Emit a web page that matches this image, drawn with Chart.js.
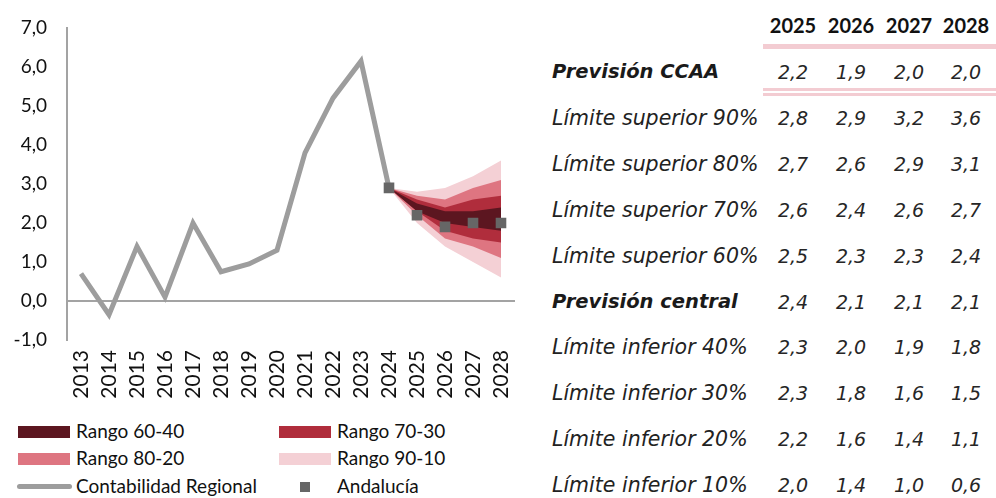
<!DOCTYPE html>
<html>
<head>
<meta charset="utf-8">
<script src="https://cdn.jsdelivr.net/npm/chart.js"></script>
<style>
  html, body { margin: 0; padding: 0; background: #fff; }
  body { width: 996px; height: 498px; position: relative; overflow: hidden; font-family: Lato, sans-serif; }
  #chartWrap { position: absolute; left: 0; top: 0; width: 530px; height: 418px; }
  .leg { position: absolute; font-family: Lato, sans-serif; font-size: 19px; color: #111; line-height: 20px; }
  .sw { position: absolute; }
  .tbl { position: absolute; font-family: "DejaVu Sans", sans-serif; color: #1a1a1a; white-space: nowrap; }
  .lab { font-style: oblique; font-size: 20.5px; color: #222; }
  .labB { font-style: oblique; font-weight: bold; font-size: 19.5px; }
  .val { font-style: oblique; font-size: 19px; color: #262626; text-align: center; width: 58px; }
  .hdr { font-family: Lato, sans-serif; font-weight: bold; font-size: 20px; color: #111; text-align: center; width: 58px; }
  .pink { position: absolute; background: #f3ccd2; }
</style>
</head>
<body>
<div id="chartWrap"><canvas id="c" width="530" height="418"></canvas></div>
<div id="legend"></div>
<div id="table"></div>
<script>
// ---- data ----
const years = ["2013","2014","2015","2016","2017","2018","2019","2020","2021","2022","2023","2024","2025","2026","2027","2028"];
const contabilidadRegional = [0.7, -0.35, 1.4, 0.1, 2.0, 0.75, 0.95, 1.3, 3.8, 5.2, 6.15, 2.9, null, null, null, null];
const forecastYears = ["2025","2026","2027","2028"];
const prevCCAA  = [2.2, 1.9, 2.0, 2.0];
const sup90 = [2.8, 2.9, 3.2, 3.6];
const sup80 = [2.7, 2.6, 2.9, 3.1];
const sup70 = [2.6, 2.4, 2.6, 2.7];
const sup60 = [2.5, 2.3, 2.3, 2.4];
const central = [2.4, 2.1, 2.1, 2.1];
const inf40 = [2.3, 2.0, 1.9, 1.8];
const inf30 = [2.3, 1.8, 1.6, 1.5];
const inf20 = [2.2, 1.6, 1.4, 1.1];
const inf10 = [2.0, 1.4, 1.0, 0.6];
const yTicks = [-1, 0, 1, 2, 3, 4, 5, 6, 7];

const tableRows = [
  ["Previsión CCAA", prevCCAA, true],
  ["Límite superior 90%", sup90, false],
  ["Límite superior 80%", sup80, false],
  ["Límite superior 70%", sup70, false],
  ["Límite superior 60%", sup60, false],
  ["Previsión central", central, true],
  ["Límite inferior 40%", inf40, false],
  ["Límite inferior 30%", inf30, false],
  ["Límite inferior 20%", inf20, false],
  ["Límite inferior 10%", inf10, false]
];

const fmt = v => v.toFixed(1).replace('.', ',');

// ---- chart ----
const anchorIdx = 11;
const anchor = contabilidadRegional[anchorIdx];
const pad = Array(anchorIdx).fill(null);
const fan = arr => pad.concat([anchor], arr);
const andalucia = pad.concat([anchor], prevCCAA);

const C_6040 = '#5c1620', C_7030 = '#b02d3c', C_8020 = '#de7581', C_9010 = '#f4d0d5';
const band = (data, color, target, order) => ({
  type: 'line', data, borderWidth: 0, pointRadius: 0, tension: 0,
  backgroundColor: color, borderColor: color, fill: target === null ? false : target, order
});

Chart.defaults.font.family = 'Lato, sans-serif';
Chart.defaults.color = '#111';

new Chart(document.getElementById('c'), {
  type: 'line',
  data: {
    labels: years,
    datasets: [
      { label: 'Andalucía', data: andalucia, showLine: false, pointStyle: 'rect', pointRadius: 7.5,
        pointBackgroundColor: '#666666', pointBorderWidth: 0, backgroundColor: '#666666', order: 0 },
      { label: 'Contabilidad Regional', data: contabilidadRegional, borderColor: '#9d9d9d', borderWidth: 5,
        pointRadius: 0, tension: 0, fill: false, borderJoinStyle: 'miter', borderCapStyle: 'butt', order: 1 },
      band(fan(sup60), C_6040, 3, 2),
      band(fan(inf40), C_6040, null, 2),
      band(fan(sup70), C_7030, 5, 3),
      band(fan(inf30), C_7030, null, 3),
      band(fan(sup80), C_8020, 7, 4),
      band(fan(inf20), C_8020, null, 4),
      band(fan(sup90), C_9010, 9, 5),
      band(fan(inf10), C_9010, null, 5)
    ]
  },
  options: {
    responsive: false,
    devicePixelRatio: 1,
    animation: false,
    layout: { padding: { top: 28, right: 15, left: 0, bottom: 0 } },
    plugins: { legend: { display: false }, tooltip: { enabled: false } },
    scales: {
      x: {
        offset: true,
        grid: { display: false, drawTicks: false },
        border: { display: false },
        ticks: { autoSkip: false, minRotation: 90, maxRotation: 90, padding: 10, color: '#111', font: { size: 21 } },
        afterFit: s => { s.height = 78; s.paddingLeft = 0; s.paddingRight = 0; }
      },
      y: {
        min: -1, max: 7,
        afterBuildTicks: s => { s.ticks = yTicks.map(v => ({ value: v })); },
        grid: { drawTicks: false, lineWidth: 2,
          color: ctx => (ctx.tick && ctx.tick.value === 0) ? '#a3a3a3' : 'rgba(0,0,0,0)' },
        border: { display: true, color: '#a3a3a3', width: 2 },
        ticks: { padding: 20, color: '#111', font: { size: 19 }, callback: v => fmt(v) },
        afterFit: s => { s.width = 67; s.paddingTop = 0; s.paddingBottom = 0; }
      }
    }
  }
});

// ---- legend (HTML) ----
const legendItems = [
  { text: 'Rango 60-40', kind: 'box', color: C_6040, x: 18, y: 432 },
  { text: 'Rango 70-30', kind: 'box', color: C_7030, x: 279, y: 432 },
  { text: 'Rango 80-20', kind: 'box', color: C_8020, x: 18, y: 459 },
  { text: 'Rango 90-10', kind: 'box', color: C_9010, x: 279, y: 459 },
  { text: 'Contabilidad Regional', kind: 'line', color: '#9d9d9d', x: 18, y: 487 },
  { text: 'Andalucía', kind: 'square', color: '#666666', x: 279, y: 487 }
];
const legEl = document.getElementById('legend');
legendItems.forEach(it => {
  const sw = document.createElement('div');
  sw.className = 'sw';
  if (it.kind === 'box') {
    Object.assign(sw.style, { left: it.x + 'px', top: (it.y - 6) + 'px', width: '52px', height: '12px', background: it.color });
  } else if (it.kind === 'line') {
    Object.assign(sw.style, { left: (it.x - 1) + 'px', top: (it.y - 3) + 'px', width: '55px', height: '5px', background: it.color, borderRadius: '3px' });
  } else {
    Object.assign(sw.style, { left: (it.x + 21) + 'px', top: (it.y - 5) + 'px', width: '10px', height: '10px', background: it.color });
  }
  legEl.appendChild(sw);
  const t = document.createElement('div');
  t.className = 'leg';
  t.textContent = it.text;
  t.style.left = (it.x + 58) + 'px';
  t.style.top = (it.y - 11) + 'px';
  legEl.appendChild(t);
});

// ---- table (HTML) ----
const tblEl = document.getElementById('table');
const colCenters = [793, 851, 909, 966];
const add = (cls, text, left, cy, h) => {
  const d = document.createElement('div');
  d.className = 'tbl ' + cls;
  d.textContent = text;
  d.style.left = left + 'px';
  d.style.top = (cy - h / 2) + 'px';
  d.style.lineHeight = h + 'px';
  tblEl.appendChild(d);
};
forecastYears.forEach((y, i) => add('hdr', y, colCenters[i] - 29, 25, 24));
tableRows.forEach((row, r) => {
  const cy = 72 + r * 45.9;
  add(row[2] ? 'labB' : 'lab', row[0], 552, cy, 24);
  row[1].forEach((v, i) => add('val', fmt(v), colCenters[i] - 29, cy, 24));
});
[[763, 44, 233, 5], [763, 88, 233, 3], [763, 93, 233, 3]].forEach(p => {
  const d = document.createElement('div');
  d.className = 'pink';
  Object.assign(d.style, { left: p[0] + 'px', top: p[1] + 'px', width: p[2] + 'px', height: p[3] + 'px' });
  tblEl.appendChild(d);
});
</script>
</body>
</html>
